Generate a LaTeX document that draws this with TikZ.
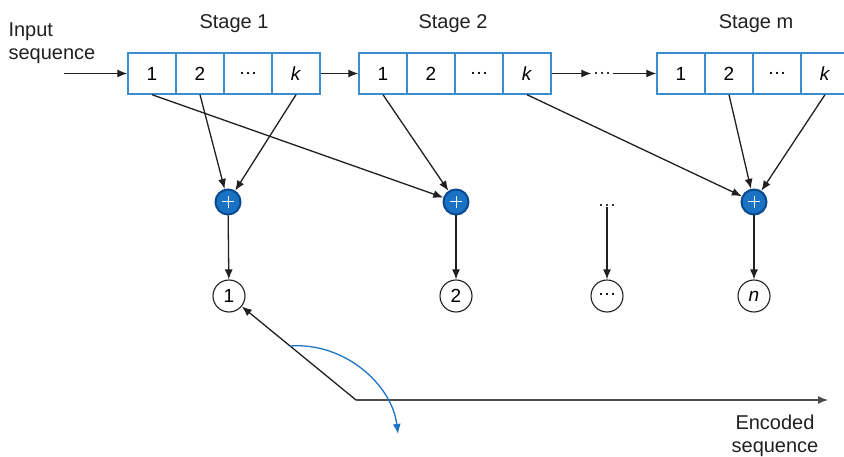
\documentclass[tikz,border=0pt]{standalone}
\usepackage{fontspec}
\setmainfont{Liberation Sans}
\usetikzlibrary{arrows.meta}
\definecolor{boxblue}{HTML}{3A8DD0}
\definecolor{adderring}{HTML}{0B4A8E}
\definecolor{adderfill}{HTML}{1A72C2}
\definecolor{ink}{HTML}{231F20}
\definecolor{curveblue}{HTML}{1B75C4}
\tikzset{
  cell/.style={draw=boxblue, line width=1.4pt, minimum width=48pt, minimum height=41pt, inner sep=0pt, font=\fontsize{19}{21}\selectfont},
  adder/.style={circle, draw=adderring, line width=2pt, fill=adderfill, minimum size=25pt, inner sep=0pt,
    path picture={\draw[white, line width=1pt] (path picture bounding box.center) +(-6pt,0) -- +(6pt,0)
      (path picture bounding box.center) +(0,-6pt) -- +(0,6pt);}},
  outc/.style={circle, draw=ink, line width=1.1pt, minimum size=32pt, inner sep=0pt, font=\fontsize{19}{21}\selectfont},
  lbl/.style={font=\fontsize{20}{23}\selectfont, text=ink},
  conn/.style={draw=ink, line width=1.3pt, -{Latex[length=10pt,width=8pt]}},
}
\begin{document}
\begin{tikzpicture}[x=1pt,y=-1pt]
\useasboundingbox (0,0) rectangle (844,457);
% labels
\node[lbl, align=left, anchor=west] (inp) at (5,43) {Input\\sequence};
\node[lbl] (st1) at (234,24) {Stage 1};
\node[lbl] (st2) at (453,24) {Stage 2};
\node[lbl] (stm) at (756,24) {Stage m};
% stage 1
\node[cell] (a1) at (152,73.5) {1};
\node[cell] (a2) at (200,73.5) {2};
\node[cell] (a3) at (248,73.5) {\dots};
\node[cell] (a4) at (296,73.5) {\textit{k}};
% stage 2
\node[cell] (b1) at (383,73.5) {1};
\node[cell] (b2) at (431,73.5) {2};
\node[cell] (b3) at (479,73.5) {\dots};
\node[cell] (b4) at (527,73.5) {\textit{k}};
% stage m
\node[cell] (c1) at (681,73.5) {1};
\node[cell] (c2) at (729,73.5) {2};
\node[cell] (c3) at (777,73.5) {\dots};
\node[cell] (c4) at (825,73.5) {\textit{k}};
% dots between stages
\node[lbl, font=\fontsize{19}{21}\selectfont, inner sep=1pt] (mid) at (602,73.5) {\dots};
\coordinate (inStart) at (64,73.5);
\draw[conn] (inStart) -- (a1.west);
\draw[conn] (a4.east) -- (b1.west);
\draw[conn] (b4.east) -- (mid.west);
\draw[conn] (mid.east) -- (c1.west);
% adders
\node[adder] (s1) at (228,202) {};
\node[adder] (s2) at (456,202) {};
\node[adder] (sm) at (754,202) {};
\node[lbl, font=\fontsize{19}{21}\selectfont, inner sep=1pt] (dd) at (607,205) {\dots};
% outputs
\node[outc] (o1) at (229,296) {1};
\node[outc] (o2) at (456,296) {2};
\node[outc] (o3) at (607,296) {\raisebox{4pt}{\dots}};
\node[outc] (on) at (754,296) {\textit{n}};
% connections to adders
\draw[conn] (a1.south) -- (s2);
\draw[conn] (a2.south) -- (s1);
\draw[conn] (a4.south) -- (s1);
\draw[conn] (b1.south) -- (s2);
\draw[conn] (b4.south) -- (sm);
\draw[conn] (c2.south) -- (sm);
\draw[conn] (c4.south) -- (sm);
% adders to outputs
\draw[conn] (s1) -- (o1);
\draw[conn] (s2) -- (o2);
\draw[conn] (dd) -- (o3);
\draw[conn] (sm) -- (on);
% encoded sequence
\coordinate (v) at (356,400);
\coordinate (e) at (828,400);
\draw[conn, draw=ink!80] (v) -- (e);
\draw[conn] (v) -- (o1);
\coordinate (cs) at (290,346);
\coordinate (ce) at (398,434);
\draw[draw=curveblue, line width=1.3pt, -{Latex[length=10pt,width=8pt]}] (cs) .. controls (345,342) and (392,385) .. (ce);
\node[lbl, align=center] (enc) at (775,436) {Encoded\\sequence};
\end{tikzpicture}
\end{document}
